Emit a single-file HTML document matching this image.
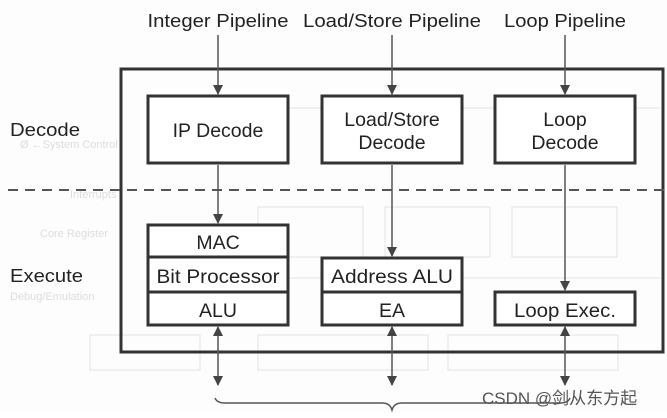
<!DOCTYPE html>
<html><head><style>
body{margin:0;background:#fff;}
svg text{font-family:"Liberation Sans",Arial,sans-serif;fill:#222;}
</style></head><body>
<svg width="667" height="413" viewBox="0 0 667 413" xmlns="http://www.w3.org/2000/svg">
<defs>
<marker id="a" markerWidth="10" markerHeight="10" refX="9" refY="5" orient="auto" markerUnits="userSpaceOnUse"><path d="M0,0 L10,5 L0,10 z" fill="#444"/></marker>
<marker id="b" markerWidth="10" markerHeight="10" refX="1" refY="5" orient="auto" markerUnits="userSpaceOnUse"><path d="M10,0 L0,5 L10,10 z" fill="#444"/></marker>
</defs>
<rect width="667" height="413" fill="#fdfdfd"/>
<g stroke="#e2e2e2" fill="none" stroke-width="1">
<rect x="258" y="207" width="105" height="50"/><rect x="385" y="207" width="105" height="50"/><rect x="512" y="207" width="105" height="50"/>
<rect x="258" y="335" width="170" height="35"/><rect x="448" y="335" width="170" height="35"/>
<rect x="90" y="335" width="110" height="35"/>
<line x1="200" y1="108" x2="660" y2="108"/><line x1="200" y1="278" x2="660" y2="278"/>
</g>
<g font-size="11">
<text x="20" y="148" style="fill:#ddd">Ø ←System Control</text>
<text x="70" y="198" style="fill:#ddd">Interrupts</text>
<text x="40" y="237" style="fill:#ddd">Core Register</text>
<text x="10" y="300" style="fill:#ddd">Debug/Emulation</text>
</g>
<rect x="121" y="69" width="542" height="283" fill="none" stroke="#333" stroke-width="3"/>
<line x1="8" y1="190" x2="667" y2="190" stroke="#555" stroke-width="2" stroke-dasharray="10,7"/>
<g font-size="18.5">
<text x="218" y="27" text-anchor="middle" textLength="141" lengthAdjust="spacingAndGlyphs">Integer Pipeline</text>
<text x="392" y="27" text-anchor="middle" textLength="178" lengthAdjust="spacingAndGlyphs">Load/Store Pipeline</text>
<text x="565" y="27" text-anchor="middle" textLength="122" lengthAdjust="spacingAndGlyphs">Loop Pipeline</text>
<text x="10" y="136" textLength="70" lengthAdjust="spacingAndGlyphs">Decode</text>
<text x="10" y="282" textLength="73" lengthAdjust="spacingAndGlyphs">Execute</text>
</g>
<g stroke="#333" stroke-width="3" fill="#fff">
<rect x="148" y="96" width="140" height="67"/>
<rect x="322" y="96" width="140" height="67"/>
<rect x="495" y="96" width="140" height="67"/>
<rect x="148" y="225" width="140" height="100"/>
<line x1="148" y1="257" x2="288" y2="257"/><line x1="148" y1="292" x2="288" y2="292"/>
<rect x="322" y="258" width="140" height="67"/>
<line x1="322" y1="292" x2="462" y2="292"/>
<rect x="495" y="292" width="140" height="33"/>
</g>
<g font-size="19.5" text-anchor="middle">
<text x="218" y="137">IP Decode</text>
<text x="392" y="126">Load/Store</text>
<text x="392" y="149">Decode</text>
<text x="565" y="126">Loop</text>
<text x="565" y="149">Decode</text>
<text x="218" y="249">MAC</text>
<text x="218" y="283" textLength="123" lengthAdjust="spacingAndGlyphs">Bit Processor</text>
<text x="218" y="317">ALU</text>
<text x="392" y="283" textLength="122" lengthAdjust="spacingAndGlyphs">Address ALU</text>
<text x="392" y="317">EA</text>
<text x="565" y="317" textLength="102" lengthAdjust="spacingAndGlyphs">Loop Exec.</text>
</g>
<g stroke="#555" stroke-width="1.5" fill="none">
<line x1="218" y1="35" x2="218" y2="94" marker-end="url(#a)"/>
<line x1="392" y1="35" x2="392" y2="94" marker-end="url(#a)"/>
<line x1="565" y1="35" x2="565" y2="94" marker-end="url(#a)"/>
<line x1="218" y1="165" x2="218" y2="223" marker-end="url(#a)"/>
<line x1="392" y1="165" x2="392" y2="256" marker-end="url(#a)"/>
<line x1="565" y1="165" x2="565" y2="290" marker-end="url(#a)"/>
<line x1="218" y1="327" x2="218" y2="385" marker-start="url(#b)" marker-end="url(#a)"/>
<line x1="392" y1="327" x2="392" y2="385" marker-start="url(#b)" marker-end="url(#a)"/>
<line x1="565" y1="327" x2="565" y2="385" marker-start="url(#b)" marker-end="url(#a)"/>
<path d="M215,398 Q217,403 225,403 L382,403 Q390,403 392,410 Q394,403 402,403 L560,403 Q568,403 570,398"/>
</g>
<text x="482" y="404" font-size="17" style="fill:#555;font-family:'Liberation Sans','Noto Sans CJK SC',sans-serif">CSDN @剑从东方起</text>
</svg>
</body></html>
